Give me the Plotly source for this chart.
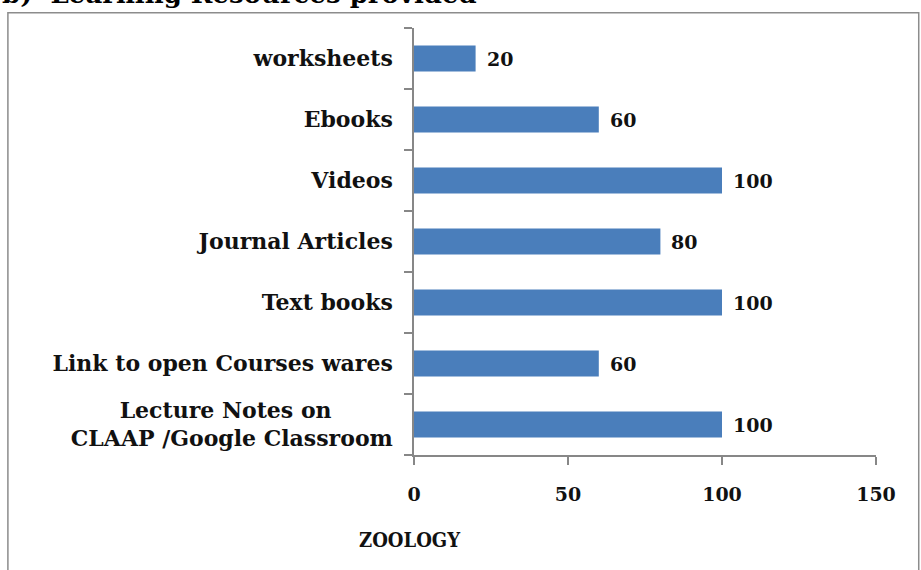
import plotly.graph_objects as go

# Learning resources provided (ZOOLOGY), percent of respondents
categories = [
    "Lecture Notes on\u00a0\u00a0\u00a0\u00a0\u00a0\u00a0\u00a0\u00a0<br>CLAAP /Google Classroom",
    "Link to open Courses wares",
    "Text books",
    "Journal Articles",
    "Videos",
    "Ebooks",
    "worksheets",
]
values = [100, 60, 100, 80, 100, 60, 20]
x_ticks = [0, 50, 100, 150]

TEXT_FONT = "DejaVu Serif"
BAR_COLOR = "#4a7ebb"
AXIS_COLOR = "#878787"
INK = "#111111"

fig = go.Figure(
    go.Bar(
        y=categories,
        x=values,
        orientation="h",
        marker=dict(color=BAR_COLOR, line=dict(width=0)),
        width=0.43,
        showlegend=False,
        hoverinfo="skip",
    )
)

# value labels to the right of each bar
for cat, val in zip(categories, values):
    fig.add_annotation(
        x=val, y=cat, xref="x", yref="y",
        text=f"<b>{val}</b>", showarrow=False,
        xanchor="left", yanchor="middle", xshift=9,
        font=dict(family=TEXT_FONT, size=19, color=INK),
    )

# series name beneath the axis
fig.add_annotation(
    x=-0.009, y=-0.199, xref="paper", yref="paper",
    text="<b>ZOOLOGY</b>", showarrow=False,
    xanchor="center", yanchor="middle",
    font=dict(family="DejaVu Serif Condensed", size=20, color=INK),
)

# heading above the chart frame
fig.add_annotation(
    x=-0.896, y=1.04, xref="paper", yref="paper",
    text="<b>b)  Learning Resources provided</b>", showarrow=False,
    xanchor="left", yanchor="bottom",
    font=dict(family="DejaVu Serif", size=26, color="#000000"),
)

# chart frame
fig.add_shape(
    type="rect", xref="paper", yref="paper",
    x0=-0.879, x1=1.0925, y0=-0.3, y1=1.0355,
    line=dict(color="#8c8c8c", width=1.5),
    fillcolor="rgba(0,0,0,0)", layer="below",
)

fig.update_layout(
    width=921,
    height=570,
    margin=dict(l=414, r=45, t=28, b=115),
    paper_bgcolor="white",
    plot_bgcolor="white",
    bargap=0.57,
    xaxis=dict(
        range=[0, 150],
        tickvals=x_ticks,
        ticktext=[f"<b>{t}</b>" for t in x_ticks],
        showgrid=False,
        zeroline=False,
        showline=True,
        linecolor=AXIS_COLOR,
        linewidth=1.5,
        ticks="outside",
        ticklen=8,
        tickcolor=AXIS_COLOR,
        tickwidth=1.5,
        ticklabelstandoff=13,
        tickfont=dict(family=TEXT_FONT, size=19, color=INK),
        fixedrange=True,
    ),
    yaxis=dict(
        categoryorder="array",
        categoryarray=categories,
        tickmode="array",
        tickvals=categories,
        ticktext=[f"<b>{c}</b>" for c in categories],
        tickson="boundaries",
        showgrid=False,
        zeroline=False,
        showline=True,
        linecolor=AXIS_COLOR,
        linewidth=1.5,
        ticks="outside",
        ticklen=8,
        tickcolor=AXIS_COLOR,
        tickwidth=1.5,
        ticklabelstandoff=15,
        tickfont=dict(family=TEXT_FONT, size=22, color=INK),
        fixedrange=True,
    ),
)

fig.write_html("out.html")
